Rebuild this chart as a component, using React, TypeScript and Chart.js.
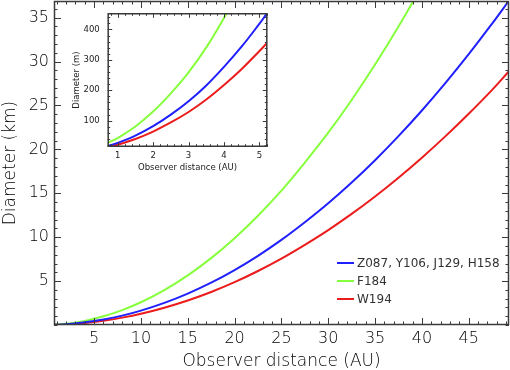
import React, { useEffect, useRef } from 'react';
import { Chart, registerables } from 'chart.js';

Chart.register(...registerables);

// ---- Main chart data (diameter in km vs observer distance in AU) ----
const mainDistance = [0.72, 2, 4, 6, 8, 10, 12.5, 15, 17.5, 20, 22.5, 25, 27.5, 30, 32.5, 35, 37.5, 40, 42.5, 45, 47.5, 49.3];
const mainBlue = [0.02, 0.09, 0.3, 0.63, 1.07, 1.64, 2.52, 3.58, 4.82, 6.26, 7.88, 9.69, 11.7, 13.86, 16.22, 18.77, 21.51, 24.43, 27.54, 30.84, 34.33, 36.94];
const mainGreen = [0.03, 0.14, 0.47, 0.99, 1.7, 2.59, 3.98, 5.66, 7.62, 9.89, 12.45, 15.3, 18.5, 21.9, 25.63, 29.66, 33.99, 38.6];
const mainRed = [0.016, 0.07, 0.23, 0.49, 0.84, 1.28, 1.97, 2.79, 3.76, 4.88, 6.15, 7.56, 9.13, 10.81, 12.65, 14.64, 16.78, 19.06, 21.48, 24.06, 26.78, 28.9];
const mainXTicks = [5, 10, 15, 20, 25, 30, 35, 40, 45];
const mainYTicks = [5, 10, 15, 20, 25, 30, 35];

// ---- Inset data (diameter in m vs observer distance in AU) ----
const insetDistance = [0.72, 1, 1.5, 2, 2.5, 3, 3.5, 4, 4.5, 5, 5.2];
const insetBlue = [17, 27, 51, 82, 120, 164, 216, 277, 344, 419, 451];
const insetGreen = [27, 43, 81, 130, 190, 259, 341, 438, 544];
const insetRed = [13.3, 21.2, 40, 64.4, 94.2, 128.7, 169.6, 217.4, 270, 329, 354];
const insetXTicks = [1, 2, 3, 4, 5];
const insetYTicks = [100, 200, 300, 400];

const seriesLabels = ['Z087, Y106, J129, H158', 'F184', 'W194'];
const BLUE = '#2020ff';
const GREEN = '#86ff3c';
const RED = '#ec1c1c';
const TEXT = '#000';
const SMALL_TEXT = '#222';
const FRAME = '#3a3a3a';
const FONT = 'DejaVu Sans';

const pts = (xs: number[], ys: number[]) => ys.map((y, i) => ({ x: xs[i], y }));

const frameTicks = {
  id: 'frameTicks',
  afterDatasetsDraw(chart: any, _args: any, opts: any) {
    const { ctx, chartArea: a, scales } = chart;
    const xs = scales.x;
    const ys = scales.y;
    ctx.save();
    ctx.strokeStyle = opts.color;
    ctx.lineWidth = opts.lineWidth;
    ctx.beginPath();
    ctx.rect(a.left + 0.5, a.top + 0.5, a.right - a.left - 1, a.bottom - a.top - 1);
    ctx.stroke();
    ctx.lineWidth = 1;
    ctx.beginPath();
    const isMajor = (scale: any, v: number) => scale.ticks.some((t: any) => Math.abs(t.value - v) < 1e-6);
    const i0 = Math.ceil(xs.min / opts.xMinor - 1e-9);
    const i1 = Math.floor(xs.max / opts.xMinor + 1e-9);
    for (let i = i0; i <= i1; i++) {
      const v = i * opts.xMinor;
      const px = Math.round(xs.getPixelForValue(v)) + 0.5;
      const len = isMajor(xs, v) ? opts.majorLen : opts.minorLen;
      ctx.moveTo(px, a.bottom);
      ctx.lineTo(px, a.bottom - len);
      ctx.moveTo(px, a.top);
      ctx.lineTo(px, a.top + len);
    }
    const j0 = Math.ceil(ys.min / opts.yMinor - 1e-9);
    const j1 = Math.floor(ys.max / opts.yMinor + 1e-9);
    for (let j = j0; j <= j1; j++) {
      const v = j * opts.yMinor;
      const py = Math.round(ys.getPixelForValue(v)) + 0.5;
      const len = isMajor(ys, v) ? opts.majorLen : opts.minorLen;
      ctx.moveTo(a.left, py);
      ctx.lineTo(a.left + len, py);
      ctx.moveTo(a.right, py);
      ctx.lineTo(a.right - len, py);
    }
    ctx.stroke();
    ctx.restore();
  },
};

const seriesKey = {
  id: 'seriesKey',
  afterDatasetsDraw(chart: any, _args: any, opts: any) {
    if (!opts || !opts.show) return;
    const { ctx, chartArea: a } = chart;
    ctx.save();
    ctx.font = `${opts.size}px ${FONT}`;
    ctx.textBaseline = 'middle';
    ctx.textAlign = 'left';
    chart.data.datasets.forEach((ds: any, i: number) => {
      const y = a.top + opts.top + i * opts.rowGap;
      const x = a.left + opts.left;
      ctx.strokeStyle = ds.borderColor;
      ctx.lineWidth = 2;
      ctx.beginPath();
      ctx.moveTo(x, y);
      ctx.lineTo(x + opts.lineLen, y);
      ctx.stroke();
      ctx.fillStyle = '#333';
      ctx.fillText(ds.label, x + opts.lineLen + 3, y + 0.5);
    });
    ctx.restore();
  },
};

function lineDs(label: string, data: any[], color: string) {
  return {
    label,
    data,
    borderColor: color,
    backgroundColor: color,
    borderWidth: 2,
    pointRadius: 0,
    fill: false,
    tension: 0.4,
    clip: 0,
  };
}

const noPad = (s: any) => {
  s.paddingTop = 0;
  s.paddingBottom = 0;
  s.paddingLeft = 0;
  s.paddingRight = 0;
};

const fLight = (size: number) => ({ family: FONT, size, weight: '300' });
const fReg = (size: number) => ({ family: FONT, size, weight: 'normal' });

export default function App() {
  const mainRef = useRef<HTMLCanvasElement>(null);
  const insetRef = useRef<HTMLCanvasElement>(null);

  useEffect(() => {
    const main = new Chart(mainRef.current as HTMLCanvasElement, {
      type: 'line',
      data: {
        datasets: [
          lineDs(seriesLabels[0], pts(mainDistance, mainBlue), BLUE),
          lineDs(seriesLabels[1], pts(mainDistance, mainGreen), GREEN),
          lineDs(seriesLabels[2], pts(mainDistance, mainRed), RED),
        ],
      },
      plugins: [frameTicks, seriesKey],
      options: {
        animation: false,
        responsive: true,
        maintainAspectRatio: false,
        layout: { padding: { top: 1, right: 1, left: 0, bottom: 0 } },
        plugins: {
          legend: { display: false },
          tooltip: { enabled: false },
          frameTicks: { color: FRAME, lineWidth: 1.5, xMinor: 1, yMinor: 1, majorLen: 7, minorLen: 3.5 },
          seriesKey: { show: true, left: 283, top: 262, rowGap: 18, lineLen: 17, size: 12 },
        } as any,
        scales: {
          x: {
            type: 'linear',
            min: 0.72,
            max: 49.3,
            grid: { display: false, drawTicks: false },
            border: { display: false },
            afterBuildTicks: (s: any) => { s.ticks = mainXTicks.map((v) => ({ value: v })); },
            afterFit: (s: any) => { s.height = 45; noPad(s); },
            ticks: { font: fLight(16), color: TEXT, padding: 4, autoSkip: false, maxRotation: 0 },
            title: { display: true, text: 'Observer distance (AU)', font: fLight(17), color: TEXT, padding: { top: 0, bottom: -2 } },
          },
          y: {
            type: 'linear',
            min: 0,
            max: 36.9,
            grid: { display: false, drawTicks: false },
            border: { display: false },
            afterBuildTicks: (s: any) => { s.ticks = mainYTicks.map((v) => ({ value: v })); },
            afterFit: (s: any) => { s.width = 54; noPad(s); },
            ticks: { font: fLight(16), color: TEXT, padding: 5 },
            title: { display: true, text: 'Diameter (km)', font: fLight(17), color: TEXT, padding: { top: 0, bottom: 0 } },
          },
        },
      } as any,
    });

    const inset = new Chart(insetRef.current as HTMLCanvasElement, {
      type: 'line',
      data: {
        datasets: [
          lineDs(seriesLabels[0], pts(insetDistance, insetBlue), BLUE),
          lineDs(seriesLabels[1], pts(insetDistance, insetGreen), GREEN),
          lineDs(seriesLabels[2], pts(insetDistance, insetRed), RED),
        ],
      },
      plugins: [frameTicks],
      options: {
        animation: false,
        responsive: true,
        maintainAspectRatio: false,
        layout: { padding: { top: 9.3, right: 7.7, left: 0, bottom: 0 } },
        plugins: {
          legend: { display: false },
          tooltip: { enabled: false },
          frameTicks: { color: FRAME, lineWidth: 1.5, xMinor: 0.2, yMinor: 20, majorLen: 4.5, minorLen: 2.5 },
        } as any,
        scales: {
          x: {
            type: 'linear',
            min: 0.72,
            max: 5.22,
            grid: { display: false, drawTicks: false },
            border: { display: false },
            afterBuildTicks: (s: any) => { s.ticks = insetXTicks.map((v) => ({ value: v })); },
            afterFit: (s: any) => { s.height = 27.3; noPad(s); },
            ticks: { font: fReg(8.5), color: SMALL_TEXT, padding: 4, autoSkip: false, maxRotation: 0 },
            title: { display: true, text: 'Observer distance (AU)', font: fReg(8.5), color: SMALL_TEXT, padding: { top: 0, bottom: 1 } },
          },
          y: {
            type: 'linear',
            min: 14.6,
            max: 453,
            grid: { display: false, drawTicks: false },
            border: { display: false },
            afterBuildTicks: (s: any) => { s.ticks = insetYTicks.map((v) => ({ value: v })); },
            afterFit: (s: any) => { s.width = 47.7; noPad(s); },
            ticks: { font: fReg(8.5), color: SMALL_TEXT, padding: 8 },
            title: { display: true, text: 'Diameter (m)', font: fReg(8.5), color: SMALL_TEXT, padding: { top: 12, bottom: 0 } },
          },
        },
      } as any,
    });

    return () => {
      main.destroy();
      inset.destroy();
    };
  }, []);

  return (
    <div style={{ position: 'absolute', left: 0, top: 0, width: 510, height: 370, background: '#fff' }}>
      <div style={{ position: 'absolute', left: 0, top: 0, width: 510, height: 370 }}>
        <canvas ref={mainRef} />
      </div>
      <div style={{ position: 'absolute', left: 60, top: 4, width: 215, height: 170 }}>
        <canvas ref={insetRef} />
      </div>
    </div>
  );
}
